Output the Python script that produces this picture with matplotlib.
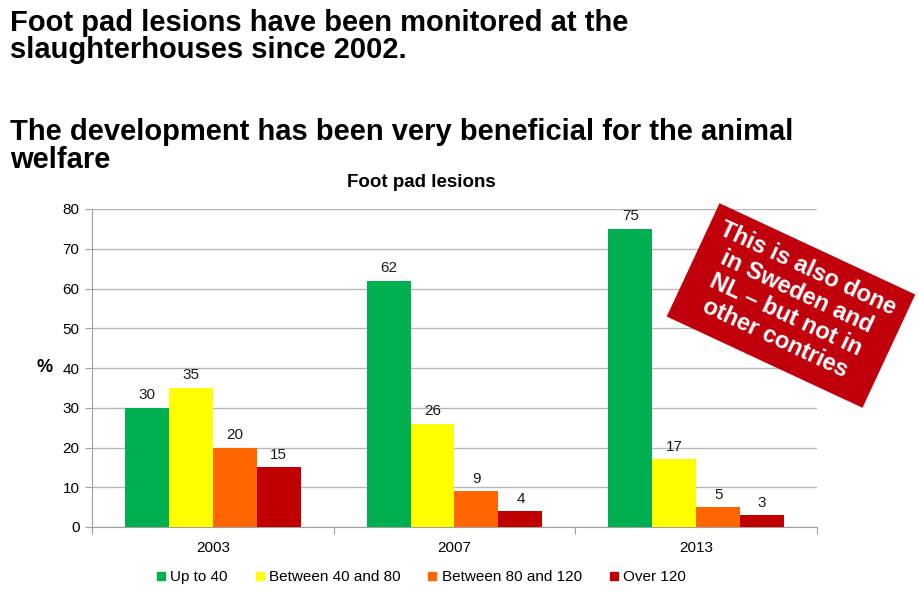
import numpy as np
import matplotlib
matplotlib.use('Agg')
import matplotlib.pyplot as plt
from matplotlib.patches import Rectangle
from matplotlib.lines import Line2D
from matplotlib.transforms import Affine2D

plt.rcParams['font.family'] = ['Liberation Sans', 'DejaVu Sans']

years = ['2003', '2007', '2013']
series_names = ['Up to 40', 'Between 40 and 80', 'Between 80 and 120', 'Over 120']
up_to_40 = [30, 62, 75]
between_40_80 = [35, 26, 17]
between_80_120 = [20, 9, 5]
over_120 = [15, 4, 3]
colors = ['#00B050', '#FFFF00', '#FF6600', '#C00000']

heading_lines = ['Foot pad lesions have been monitored at the',
                 'slaughterhouses since 2002.',
                 'The development has been very beneficial for the animal',
                 'welfare']
heading_baselines = [31, 58, 140, 168]

W, H = 920, 592
fig = plt.figure(figsize=(W / 100, H / 100), dpi=100)

# slide headings, one text per line
for line, yb in zip(heading_lines, heading_baselines):
    fig.text(10 / W, 1 - yb / H, line, fontsize=21, fontweight='bold', va='baseline', ha='left')

ax = fig.add_axes([92 / W, 1 - 527 / H, (817 - 92) / W, (527 - 209) / H])

x = np.arange(len(years))
w = 0.182
values = [up_to_40, between_40_80, between_80_120, over_120]
for i, (vals, c, name) in enumerate(zip(values, colors, series_names)):
    bars = ax.bar(x + (i - 1.5) * w, vals, width=w, color=c, label=name, zorder=3)
    for b, v in zip(bars, vals):
        ax.annotate(str(v), (b.get_x() + b.get_width() / 2, v), xytext=(0, 4),
                    textcoords='offset points', ha='center', va='bottom', fontsize=11, color='#1a1a1a')

ax.set_xlim(-0.5, 2.5)
ax.set_ylim(0, 80)
ax.set_yticks(range(0, 81, 10))
ax.yaxis.grid(True, color='#B8B8B8', linewidth=1, zorder=0)
ax.set_axisbelow(True)

ax.set_xticks([-0.5, 0.5, 1.5, 2.5])
ax.set_xticklabels([])
ax.set_xticks(x, minor=True)
ax.set_xticklabels(years, minor=True, fontsize=11)
ax.tick_params(axis='x', which='major', length=5, color='#A0A0A0')
ax.tick_params(axis='x', which='minor', length=0, pad=10)
ax.tick_params(axis='y', length=5, color='#A0A0A0', labelsize=11, pad=4)

for s in ['top', 'right']:
    ax.spines[s].set_visible(False)
for s in ['left', 'bottom']:
    ax.spines[s].set_color('#A0A0A0')

ax.set_ylabel('%', rotation=0, fontsize=13, fontweight='bold', va='center', ha='center')
ax.yaxis.set_label_coords(-0.066, 0.5)
ax.set_title('Foot pad lesions', fontsize=13.5, fontweight='bold', x=(421 - 92) / (817 - 92), pad=16)

handles = [Line2D([], [], marker='s', linestyle='', markersize=6, markerfacecolor=c, markeredgecolor=c)
           for c in colors]
fig.legend(handles, series_names, loc='center', bbox_to_anchor=(421 / W, 1 - 577 / H), ncol=4,
           frameon=False, fontsize=11, handlelength=0.6, handletextpad=0.3, columnspacing=1.8)

# rotated red note
cx, cy = 791, H - 305.5
rot = Affine2D().rotate_deg_around(cx, cy, -25)
fig.patches.append(Rectangle((cx - 108, cy - 62.5), 216, 125, transform=rot,
                             facecolor='#C0000B', edgecolor='none'))
fig.text(cx / W, (cy + 2) / H, 'This is also done\nin Sweden and\nNL \u2013 but not in\nother contries',
         color='white', fontsize=17, fontweight='bold', rotation=-25, rotation_mode='anchor',
         ha='center', va='center', multialignment='center', linespacing=1.15)

fig.savefig('out.png', dpi=100)
